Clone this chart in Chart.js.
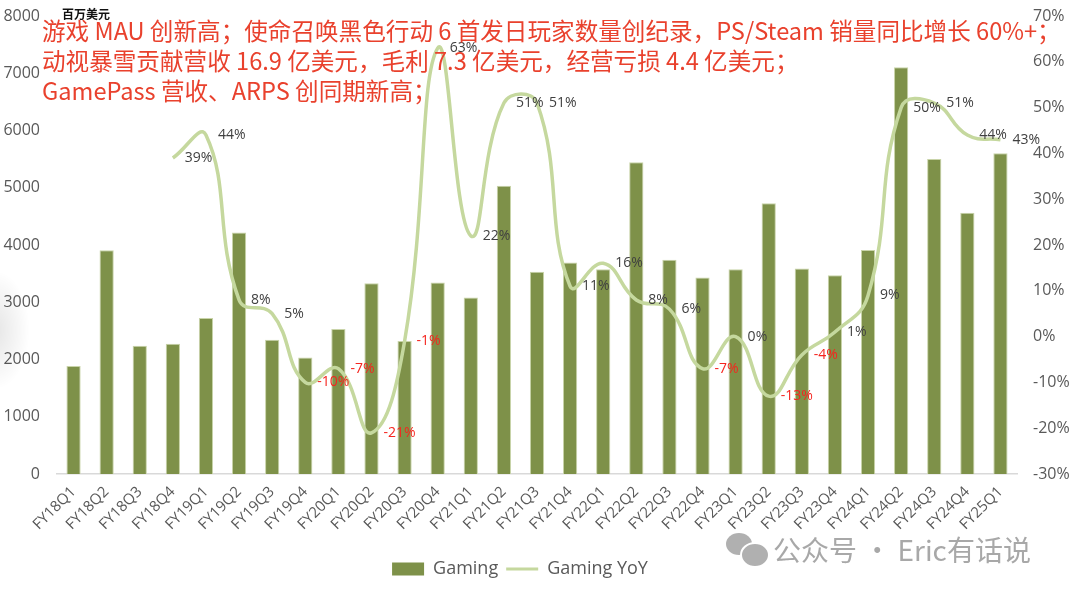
<!DOCTYPE html>
<html>
<head>
<meta charset="utf-8">
<script src="https://cdn.jsdelivr.net/npm/chart.js"></script>
<style>
  body { margin: 0; background: #fff; }
  #wrap { position: relative; width: 1080px; height: 592px; overflow: hidden; }
  #myChart { position: absolute; left: 0; top: 0; }
  .unit { position: absolute; left: 62px; top: 5px; font: bold 12px "Noto Sans CJK SC"; color: #111; }
  .note { position: absolute; left: 42px; top: 15px; font: 23.6px/30px "Noto Sans CJK SC"; color: #e9412d; white-space: nowrap; }
  .mark { position: absolute; left: 773px; top: 529px; font: 28px "Noto Sans CJK SC"; color: #a8a8a8; white-space: nowrap; }
  .bub { position: absolute; border-radius: 50%; background: #b0b0b0; }
  .shade { position: absolute; left: -40px; top: 270px; width: 70px; height: 120px;
           background: radial-gradient(ellipse at center, rgba(0,0,0,0.10), rgba(0,0,0,0) 70%); }
</style>
</head>
<body>
<div id="wrap">
  <canvas id="myChart" width="1080" height="592"></canvas>
  <div class="shade"></div>
  <div class="unit">百万美元</div>
  <div class="note">游戏 MAU 创新高；使命召唤黑色行动 6 首发日玩家数量创纪录，PS/Steam 销量同比增长 60%+；<br>动视暴雪贡献营收 16.9 亿美元，毛利 7.3 亿美元，经营亏损 4.4 亿美元；<br>GamePass 营收、ARPS 创同期新高；</div>
  <div class="bub" style="left:726px;top:533px;width:26px;height:22px"></div>
  <div class="bub" style="left:740px;top:542px;width:26px;height:22px;border:2px solid #fff"></div>
  <div class="mark">公众号 · Eric有话说</div>
</div>
<script>
const quarters = ['FY18Q1','FY18Q2','FY18Q3','FY18Q4','FY19Q1','FY19Q2','FY19Q3','FY19Q4',
  'FY20Q1','FY20Q2','FY20Q3','FY20Q4','FY21Q1','FY21Q2','FY21Q3','FY21Q4',
  'FY22Q1','FY22Q2','FY22Q3','FY22Q4','FY23Q1','FY23Q2','FY23Q3','FY23Q4',
  'FY24Q1','FY24Q2','FY24Q3','FY24Q4','FY25Q1'];

// 百万美元
const gaming = [1885, 3910, 2240, 2276, 2725, 4220, 2347, 2037,
  2533, 3333, 2323, 3345, 3082, 5037, 3531, 3695,
  3578, 5447, 3741, 3433, 3578, 4728, 3590, 3473,
  3911, 7103, 5504, 4564, 5604];

// %
const gamingYoy = [null, null, null, 39, 44, 8, 5, -10,
  -7, -21, -1, 63, 22, 51, 51, 11,
  16, 8, 6, -7, 0, -13, -4, 1,
  9, 50, 51, 44, 43];

const barColor = '#7e9149';
const lineColor = '#c5d89e';
const tickColor = '#595959';

const yoyLabels = {
  id: 'yoyLabels',
  afterLayout(chart) {
    // legend sits a bit left of centre in the original
    chart.legend.left -= 20;
    chart.legend.right -= 20;
  },
  afterDatasetsDraw(chart) {
    const ctx = chart.ctx;
    const meta = chart.getDatasetMeta(1);
    ctx.save();
    ctx.font = '14px "Open Sans"';
    ctx.textBaseline = 'middle';
    ctx.textAlign = 'left';
    meta.data.forEach((pt, i) => {
      const v = gamingYoy[i];
      if (v === null) return;
      ctx.fillStyle = v < 0 ? '#f5251f' : '#404040';
      ctx.fillText(v + '%', pt.x + 12, pt.y);
    });
    ctx.restore();
  }
};

const config = {
  data: {
    labels: quarters,
    datasets: [{
      type: 'bar',
      label: 'Gaming',
      data: gaming,
      yAxisID: 'y',
      backgroundColor: barColor,
      borderColor: '#c9d4a9',
      borderWidth: 1,
      categoryPercentage: 1,
      barPercentage: 0.43,
      order: 2
    }, {
      type: 'line',
      label: 'Gaming YoY',
      data: gamingYoy,
      yAxisID: 'y1',
      borderColor: lineColor,
      backgroundColor: lineColor,
      borderWidth: 3.5,
      pointRadius: 0,
      tension: 0.45,
      order: 1
    }]
  },
  options: {
    responsive: false,
    animation: false,
    layout: { padding: { top: 0, bottom: 4, left: 0, right: 0 } },
    font: { family: '"Open Sans"' },
    plugins: {
      legend: {
        position: 'bottom',
        labels: {
          color: tickColor,
          font: { size: 18, family: '"Open Sans"' },
          padding: 8,
          usePointStyle: true,
          pointStyleWidth: 32,
          boxHeight: 13,
          generateLabels(chart) {
            return chart.data.datasets.map((ds, i) => ({
              text: ds.label,
              fillStyle: i === 0 ? barColor : lineColor,
              strokeStyle: i === 0 ? barColor : lineColor,
              lineWidth: i === 0 ? 0 : 3,
              pointStyle: i === 0 ? 'rect' : 'line',
              fontColor: tickColor,
              datasetIndex: i
            }));
          }
        }
      },
      tooltip: { enabled: false }
    },
    scales: {
      x: {
        grid: { display: false, drawTicks: false },
        border: { display: true, color: '#d9d9d9', width: 1.5 },
        ticks: { color: tickColor, font: { size: 15 }, minRotation: 45, maxRotation: 45, padding: 9 },
        afterFit(scale) { scale.height = 78; }
      },
      y: {
        position: 'left',
        min: 0, max: 8000,
        grid: { display: false, drawTicks: false },
        border: { display: false },
        ticks: { stepSize: 1000, color: tickColor, font: { size: 16 }, padding: 17,
                 callback: v => String(v) },
        afterFit(scale) { scale.width = 57; scale.paddingTop = 16; scale.paddingBottom = 0; }
      },
      y1: {
        position: 'right',
        min: -30, max: 70,
        grid: { display: false, drawTicks: false },
        border: { display: false },
        ticks: { stepSize: 10, color: tickColor, font: { size: 16 }, padding: 16,
                 callback: v => v + '%' },
        afterFit(scale) { scale.width = 63; scale.paddingTop = 16; scale.paddingBottom = 0; }
      }
    }
  },
  plugins: [yoyLabels]
};

const myChart = new Chart(document.getElementById('myChart'), config);
</script>
</body>
</html>
